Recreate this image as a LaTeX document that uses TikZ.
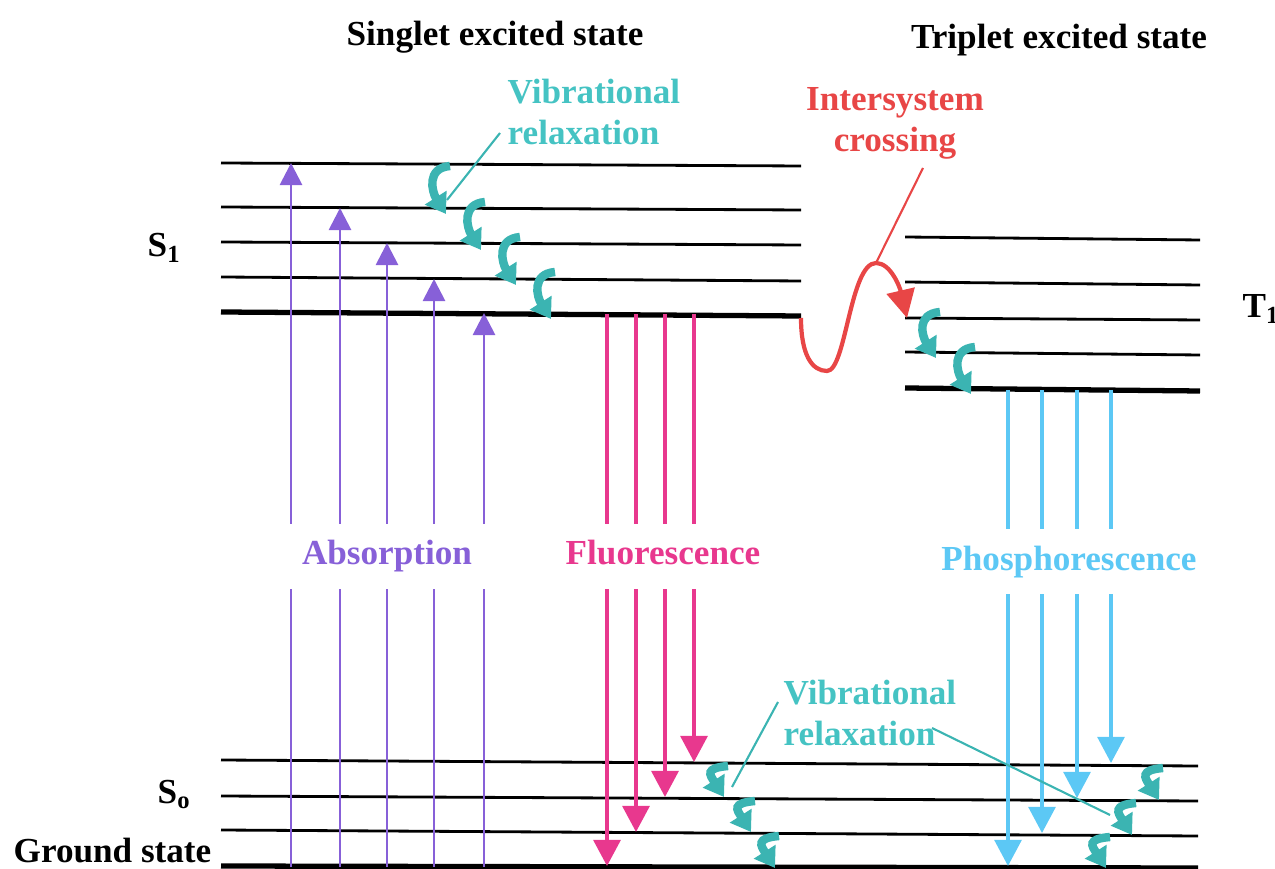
\documentclass[tikz,border=0pt]{standalone}
\usepackage{fontspec}
\setmainfont{Liberation Serif}
\usetikzlibrary{arrows.meta}
\definecolor{abscol}{HTML}{8760D8}
\definecolor{fluocol}{HTML}{E8388E}
\definecolor{phocol}{HTML}{5CC8F5}
\definecolor{vibcol}{HTML}{3BB4B2}
\definecolor{vibtxt}{HTML}{45C3C3}
\definecolor{isccol}{HTML}{E84646}
\newcommand{\vibcurl}[3]{\draw[curl] (#1+8,#2) .. controls (#1-16,#2+2) and (#1-10,#3-22) .. (#1+4,#3);}
\begin{document}
\begin{tikzpicture}[x=0.1mm,y=-0.1mm,
  every node/.style={inner sep=0pt,font=\fontsize{10}{11.6}\selectfont\bfseries},
  level/.style={line width=0.8pt},
  lowest/.style={line width=1.5pt},
  absorb/.style={abscol,line width=0.8pt,-{Triangle[width=6.3pt,length=6.3pt]}},
  fluo/.style={fluocol,line width=1.1pt,-{Triangle[width=7.6pt,length=7.4pt]}},
  phos/.style={phocol,line width=1pt,-{Triangle[width=7.6pt,length=7.4pt]}},
  curl/.style={vibcol,line width=2.4pt,-{Triangle[width=7pt,length=5.5pt]}},
  gapbox/.style={fill=white,inner xsep=6pt,inner ysep=4.7pt,text height=7pt,text depth=2pt},
  pointer/.style={line width=0.6pt}]
\useasboundingbox (0,0) rectangle (1275,869);
% singlet levels
\foreach \ya/\yb in {163/166,207/210,242/245,277/281} \draw[level] (221,\ya) -- (801,\yb);
\draw[lowest] (221,312) -- (801,316);
% triplet levels
\foreach \ya/\yb in {237/240,282/285,318/320,352/355} \draw[level] (905,\ya) -- (1200,\yb);
\draw[lowest] (905,388) -- (1200,391);
% ground levels
\foreach \ya/\yb in {760/766,796/801,830/836} \draw[level] (221,\ya) -- (1198,\yb);
\draw[lowest] (221,866) -- (1198,868);

\foreach \x/\yt [count=\i] in {291/163,340/208,387/243,434/279,484/313}{
  \coordinate (ab\i) at (\x,867);
  \coordinate (ae\i) at (\x,\yt);
  \draw[absorb] (ab\i) -- (ae\i);
}
\foreach \x/\yt [count=\i] in {607/866,636/832,665/797,694/762}{
  \coordinate (fb\i) at (\x,314);
  \coordinate (fe\i) at (\x,\yt);
  \draw[fluo] (fb\i) -- (fe\i);
}
\foreach \x/\yt [count=\i] in {1008/866,1042/833,1077/798,1111/763}{
  \coordinate (pb\i) at (\x,390);
  \coordinate (pe\i) at (\x,\yt);
  \draw[phos] (pb\i) -- (pe\i);
}

\foreach \xc/\ytop/\ybot in {442/166/214,477/202/250,512/237/285,547/272/319,
  932/312/358,967/347/394,720/766/797,747/801/832,771/836/868,
  1155/768/800,1128/803/835,1102/837/868}{\vibcurl{\xc}{\ytop}{\ybot}}

\draw[isccol,line width=1.2pt,-{Triangle[width=8pt,length=8pt]}] (801,318)
  .. controls (801,355) and (812,371) .. (827,371)
  .. controls (846,371) and (850,263) .. (876,263)
  .. controls (891,263) and (900,288) .. (907,318);

\node[anchor=base] (singlet) at (495,46) {Singlet excited state};
\node[anchor=base] (triplet) at (1059,49) {Triplet excited state};
\node[anchor=west,align=left,text=vibtxt] (vibup) at (507,112) {Vibrational\\relaxation};
\node[align=center,text=isccol] (isc) at (895,123) {Intersystem\\crossing};
\node[anchor=west,align=left,text=vibtxt] (vibdown) at (783,713) {Vibrational\\relaxation};
\node[anchor=base west] (s1) at (147,257) {S\textsubscript{1}};
\node[anchor=base west] (t1) at (1242,318) {T\textsubscript{1}};
\node[anchor=base west] (s0) at (157,803) {S\textsubscript{o}};
\node[anchor=base east] (ground) at (212,862) {Ground state};
\node[gapbox,anchor=base,text=abscol] (absl) at (387,565) {Absorption};
\node[gapbox,anchor=base,text=fluocol] (fluol) at (663,565) {Fluorescence};
\node[gapbox,anchor=base,text=phocol] (phosl) at (1069,570) {Phosphorescence};

\coordinate (vibup-start) at (500,133);
\coordinate (vibup-end) at (447,200);
\coordinate (vibdown-start1) at (778,702);
\coordinate (vibdown-end1) at (732,787);
\coordinate (vibdown-start2) at (932,728);
\coordinate (vibdown-end2) at (1110,815);
\coordinate (isc-start) at (923,168);
\coordinate (isc-end) at (876,263);
\draw[pointer,vibcol] (vibup-start) -- (vibup-end);
\draw[pointer,vibcol] (vibdown-start1) -- (vibdown-end1);
\draw[pointer,vibcol] (vibdown-start2) -- (vibdown-end2);
\draw[pointer,isccol] (isc-start) -- (isc-end);
\end{tikzpicture}
\end{document}
